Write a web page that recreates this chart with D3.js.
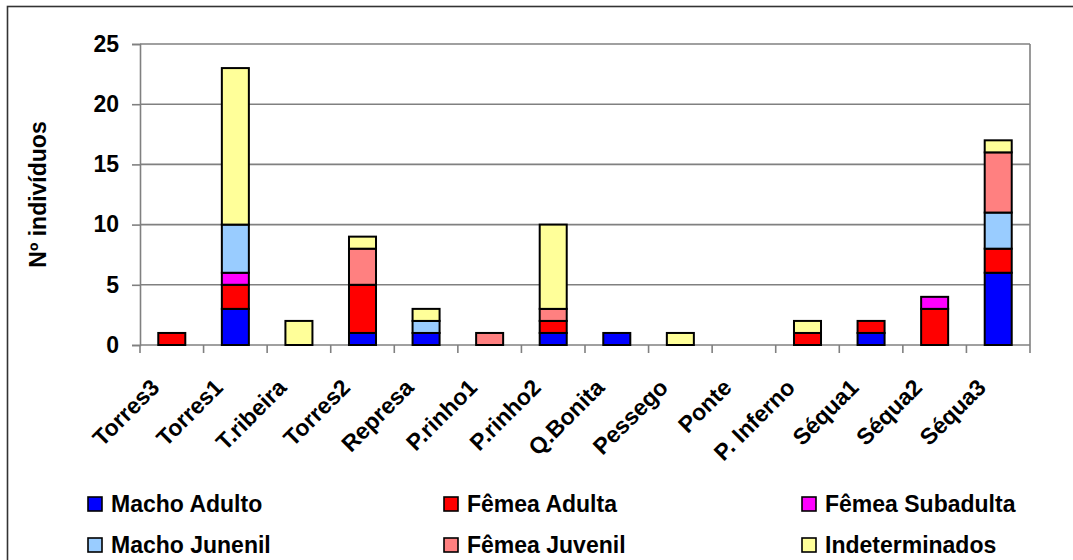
<!DOCTYPE html>
<html>
<head>
<meta charset="utf-8">
<script src="https://cdn.jsdelivr.net/npm/d3@7"></script>
<style>
  html, body { margin: 0; padding: 0; background: #fff; }
  svg { display: block; }
  text { font-family: "Liberation Sans", Arial, sans-serif; font-weight: bold; fill: #000; }
</style>
</head>
<body>
<svg id="chart" width="1073" height="560"></svg>
<script>
// Sampling sites
const sites = ["Torres3", "Torres1", "T.ribeira", "Torres2", "Represa", "P.rinho1", "P.rinho2",
               "Q.Bonita", "Pessego", "Ponte", "P. Inferno", "Séqua1", "Séqua2", "Séqua3"];

// Individuals counted per class at each site (stacked bottom to top)
const machoAdulto     = [0, 3, 0, 1, 1, 0, 1, 1, 0, 0, 0, 1, 0, 6];
const femeaAdulta     = [1, 2, 0, 4, 0, 0, 1, 0, 0, 0, 1, 1, 3, 2];
const femeaSubadulta  = [0, 1, 0, 0, 0, 0, 0, 0, 0, 0, 0, 0, 1, 0];
const machoJunenil    = [0, 4, 0, 0, 1, 0, 0, 0, 0, 0, 0, 0, 0, 3];
const femeaJuvenil    = [0, 0, 0, 3, 0, 1, 1, 0, 0, 0, 0, 0, 0, 5];
const indeterminados  = [0, 13, 2, 1, 1, 0, 7, 0, 1, 0, 1, 0, 0, 1];

const seriesNames  = ["Macho Adulto", "Fêmea Adulta", "Fêmea Subadulta", "Macho Junenil", "Fêmea Juvenil", "Indeterminados"];
const seriesValues = [machoAdulto, femeaAdulta, femeaSubadulta, machoJunenil, femeaJuvenil, indeterminados];
const seriesColors = ["#0000FF", "#FF0000", "#FF00FF", "#99CCFF", "#FF8080", "#FFFF99"];

const yTicks = [0, 5, 10, 15, 20, 25];
const yTitle = "Nº indivíduos";

// Rows for d3.stack
const rows = sites.map((s, i) => {
  const r = { site: s };
  seriesNames.forEach((n, k) => { r[n] = seriesValues[k][i]; });
  return r;
});

const svg = d3.select("#chart");
const plot = { left: 140, right: 1030, top: 44, bottom: 345 };
const fontSize = "23px";

// Outer frame
svg.append("rect")
  .attr("x", 7.5).attr("y", 6.5)
  .attr("width", 1100).attr("height", 600)
  .attr("fill", "none").attr("stroke", "#333").attr("stroke-width", 1.6);

const x = d3.scaleBand()
  .domain(sites)
  .range([plot.left, plot.right])
  .paddingInner(0.575)
  .paddingOuter(0.2875);

const y = d3.scaleLinear().domain([0, 25]).range([plot.bottom, plot.top]);

const grey = "#808080";

// Horizontal gridlines
svg.append("g").selectAll("line")
  .data(yTicks.filter(t => t > 0))
  .join("line")
  .attr("x1", plot.left).attr("x2", plot.right)
  .attr("y1", d => y(d)).attr("y2", d => y(d))
  .attr("stroke", grey).attr("stroke-width", 1.6);

// Right edge of the plot area
svg.append("line")
  .attr("x1", plot.right).attr("x2", plot.right)
  .attr("y1", plot.top).attr("y2", plot.bottom)
  .attr("stroke", grey).attr("stroke-width", 1.6);

// Y axis
const yAxis = svg.append("g")
  .attr("transform", `translate(${plot.left},0)`)
  .call(d3.axisLeft(y).tickValues(yTicks).tickSize(8).tickPadding(13));
yAxis.select(".domain").attr("stroke", grey).attr("stroke-width", 1.6);
yAxis.selectAll(".tick line").attr("stroke", grey).attr("stroke-width", 1.6);
yAxis.selectAll(".tick text")
  .style("font-family", '"Liberation Sans", Arial, sans-serif')
  .style("font-weight", "bold")
  .style("font-size", fontSize)
  .attr("fill", "#000");

// X axis with ticks at category boundaries
const step = x.step();
const boundaries = d3.range(sites.length + 1).map(i => plot.left + i * step);
svg.append("line")
  .attr("x1", plot.left).attr("x2", plot.right)
  .attr("y1", plot.bottom).attr("y2", plot.bottom)
  .attr("stroke", grey).attr("stroke-width", 1.6);
svg.append("g").selectAll("line")
  .data(boundaries)
  .join("line")
  .attr("x1", d => d).attr("x2", d => d)
  .attr("y1", plot.bottom).attr("y2", plot.bottom + 8)
  .attr("stroke", grey).attr("stroke-width", 1.6);

// Category labels, slanted 45° upward and anchored at their end under each bar
svg.append("g").selectAll("text")
  .data(sites)
  .join("text")
  .attr("text-anchor", "end")
  .attr("transform", d => `translate(${x(d) + x.bandwidth() / 2 - 11},${plot.bottom + 44}) rotate(-45)`)
  .style("font-size", fontSize)
  .text(d => d);

// Stacked bars
const stacked = d3.stack().keys(seriesNames)(rows);
svg.append("g").selectAll("g")
  .data(stacked)
  .join("g")
  .attr("fill", (d, i) => seriesColors[i])
  .selectAll("rect")
  .data(d => d.filter(s => s[1] - s[0] > 0))
  .join("rect")
  .attr("x", d => x(d.data.site))
  .attr("width", x.bandwidth())
  .attr("y", d => y(d[1]))
  .attr("height", d => y(d[0]) - y(d[1]))
  .attr("stroke", "#000")
  .attr("stroke-width", 2);

// Y axis title
svg.append("text")
  .attr("transform", `translate(38,${(plot.top + plot.bottom) / 2}) rotate(-90)`)
  .attr("text-anchor", "middle")
  .attr("dy", "0.35em")
  .style("font-size", fontSize)
  .text(yTitle);

// Legend: three columns, two rows
const legendCols = [88, 444, 802];
const legendRows = [504, 545];
const legend = svg.append("g").selectAll("g")
  .data(seriesNames)
  .join("g")
  .attr("transform", (d, i) => `translate(${legendCols[i % 3]},${legendRows[Math.floor(i / 3)]})`);
legend.append("rect")
  .attr("x", 0).attr("y", -7)
  .attr("width", 14).attr("height", 14)
  .attr("fill", (d, i) => seriesColors[i])
  .attr("stroke", "#000").attr("stroke-width", 1.6);
legend.append("text")
  .attr("x", 23)
  .attr("dy", "0.35em")
  .style("font-size", fontSize)
  .text(d => d);
</script>
</body>
</html>
